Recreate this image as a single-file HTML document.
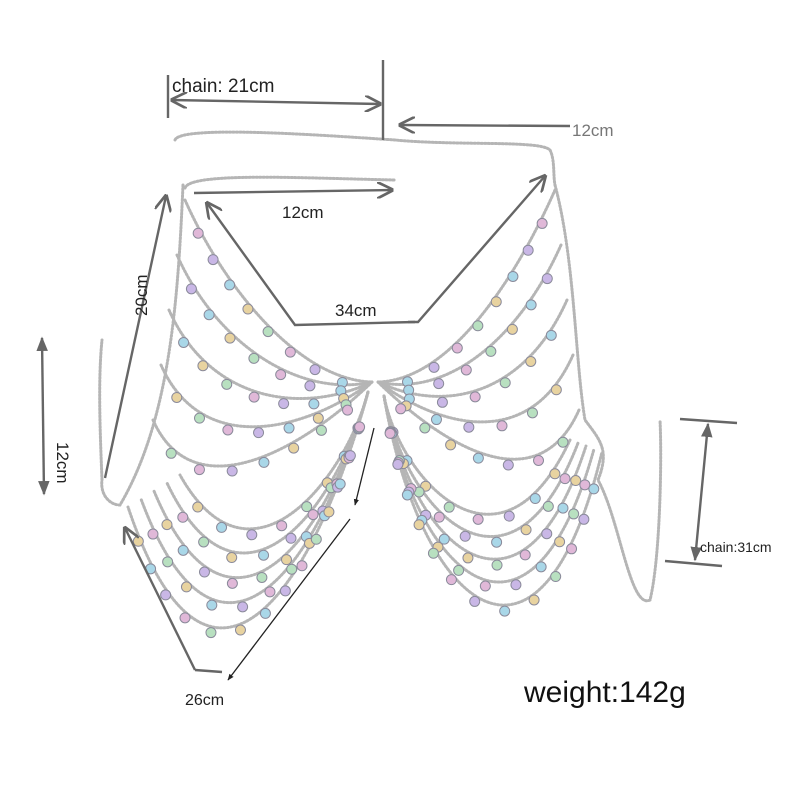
<!DOCTYPE html>
<html><head><meta charset="utf-8"><style>
html,body{margin:0;padding:0;background:#fff;width:800px;height:800px;overflow:hidden}
svg{display:block}
text{font-family:"Liberation Sans",sans-serif}
</style></head><body>
<svg id="s" width="800" height="800" viewBox="0 0 800 800">
<defs>
<marker id="ah" viewBox="0 0 10 10" refX="9" refY="5" markerWidth="7" markerHeight="7" orient="auto-start-reverse"><path d="M0,0 L10,5 L0,10" fill="none" stroke="#666" stroke-width="1.6"/></marker>
<marker id="af" viewBox="0 0 10 10" refX="9" refY="5" markerWidth="6" markerHeight="6" orient="auto-start-reverse"><path d="M0,1 L10,5 L0,9 z" fill="#666"/></marker>
<marker id="ab" viewBox="0 0 10 10" refX="9" refY="5" markerWidth="5" markerHeight="5" orient="auto"><path d="M0,1 L10,5 L0,9 z" fill="#222"/></marker>
</defs>
<g id="chains" fill="none" stroke="#b5b5b5" stroke-width="3" stroke-dasharray="1.5 2" stroke-linecap="round"></g>
<g id="gems"></g>
<g stroke="#666" stroke-width="2.4" fill="none">
<line x1="168" y1="75" x2="168" y2="118"/>
<line x1="383" y1="60" x2="383" y2="140"/>
<line x1="172" y1="100" x2="380" y2="104" marker-start="url(#ah)" marker-end="url(#ah)"/>
<line x1="570" y1="126" x2="400" y2="125" marker-end="url(#ah)"/>
<line x1="194" y1="193" x2="392" y2="190" marker-end="url(#ah)"/>
<polyline points="415,322 295,325 207,203" marker-end="url(#ah)"/>
<polyline points="408,322 418,322 545,176" marker-end="url(#ah)"/>
<line x1="105" y1="478" x2="166" y2="196" marker-end="url(#ah)"/>
<line x1="42" y1="338" x2="44" y2="494" marker-start="url(#af)" marker-end="url(#af)"/>
<line x1="680" y1="419" x2="737" y2="423"/>
<line x1="665" y1="561" x2="722" y2="566"/>
<line x1="708" y1="424" x2="695" y2="560" marker-start="url(#af)" marker-end="url(#af)"/>
<polyline points="195,670 125,528" marker-end="url(#ah)"/>
<line x1="195" y1="670" x2="222" y2="672"/>
</g>
<g stroke="#222" stroke-width="1.3" fill="none">
<line x1="374" y1="428" x2="355" y2="505" marker-end="url(#ab)"/>
<line x1="350" y1="519" x2="228" y2="680" marker-end="url(#ab)"/>
</g>
<text x="172" y="92" font-size="19" fill="#222">chain: 21cm</text>
<text x="572" y="136" font-size="17" fill="#777">12cm</text>
<text x="282" y="218" font-size="17" fill="#222">12cm</text>
<text x="335" y="316" font-size="17" fill="#222">34cm</text>
<text x="0" y="0" font-size="17" fill="#222" transform="translate(147,316) rotate(-90)">20cm</text>
<text x="0" y="0" font-size="17" fill="#222" transform="translate(57,442) rotate(90)">12cm</text>
<text x="700" y="552" font-size="14" fill="#222">chain:31cm</text>
<text x="185" y="705" font-size="16" fill="#222">26cm</text>
<text x="524" y="702" font-size="30" fill="#111">weight:142g</text>
</svg>
<script>
var NS="http://www.w3.org/2000/svg";
var ch=document.getElementById("chains"),gm=document.getElementById("gems");
var paths=[];
function P(d,gems){paths.push([d,gems]);}
P("M175 140 C180 125 320 135 395 140 C460 146 540 140 550 150 C555 160 553 175 555 185",false);
P("M185 188 C190 172 300 178 395 180",false);
P("M183 185 C178 300 170 420 120 505 C110 505 100 495 102 480 C100 430 98 380 102 340",false);
for(var i=0;i<5;i++){var sx=185-i*8,sy=200+i*55;
 P("M"+sx+" "+sy+" C"+(sx+40)+" "+(sy+90)+", 300 "+(380+i*18)+", 372 382",true);}
for(var i=0;i<5;i++){var sx=555+i*6,sy=190+i*55;
 P("M"+sx+" "+sy+" C"+(sx-40)+" "+(sy+90)+", 450 "+(380+i*18)+", 378 382",true);}
P("M555 185 C575 260 575 360 585 420 C600 440 610 450 598 480 C620 520 630 610 650 600 C660 560 662 460 660 420",false);
for(var i=0;i<5;i++){P("M368 392 C"+(345-i*10)+" "+(480+i*35)+", "+(250-i*12)+" "+(600+i*32)+", "+(180-i*13)+" "+(475+i*8),true);}
for(var i=0;i<5;i++){P("M384 396 C"+(400+i*5)+" "+(480+i*32)+", "+(500+i*10)+" "+(590+i*30)+", "+(570+i*8)+" "+(440+i*3),true);}
var cols=["#c9b7e6","#a9d7e8","#e8d3a0","#b8e0c0","#e0b8d8"];
paths.forEach(function(p,k){
 var e=document.createElementNS(NS,"path");e.setAttribute("d",p[0]);ch.appendChild(e);
 if(p[1]){var L=e.getTotalLength();var n=Math.floor(L/30);
  for(var j=1;j<n;j++){var pt=e.getPointAtLength(j*L/n);
   var c=document.createElementNS(NS,"circle");c.setAttribute("cx",pt.x);c.setAttribute("cy",pt.y+6);c.setAttribute("r",5);
   c.setAttribute("fill",cols[(j+k)%5]);c.setAttribute("stroke","#8a8a9a");c.setAttribute("stroke-width","1");gm.appendChild(c);}}
});
</script>
</body></html>
